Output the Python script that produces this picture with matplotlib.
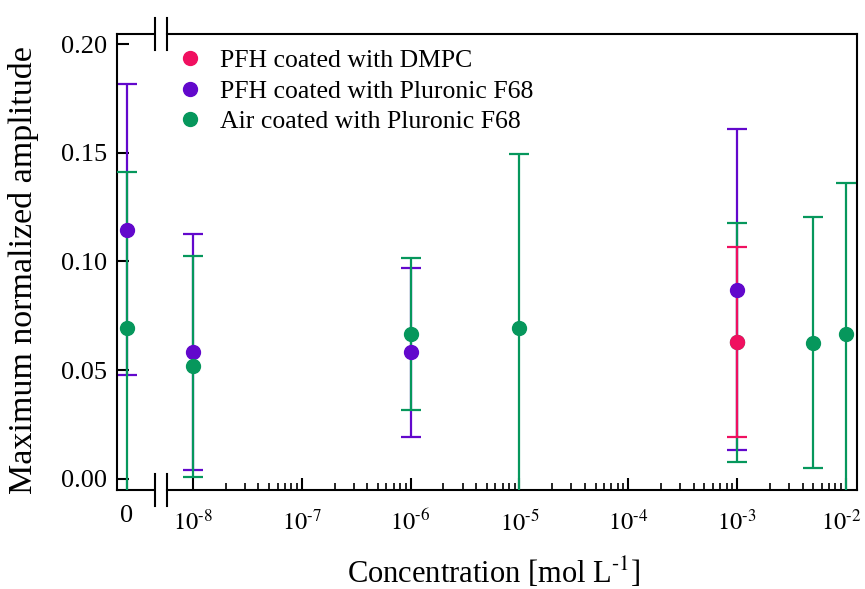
import matplotlib
matplotlib.use('Agg')
import matplotlib.pyplot as plt
import matplotlib.transforms as mtransforms
import numpy as np
from matplotlib.lines import Line2D
from matplotlib.ticker import FixedLocator

plt.rcParams['font.family'] = ['Liberation Serif', 'DejaVu Serif']
plt.rcParams['mathtext.fontset'] = 'stix'

# concentration 0 goes on its own short linear axis, the rest on a log axis
labels = ['PFH coated with DMPC', 'PFH coated with Pluronic F68', 'Air coated with Pluronic F68']
colors = ['#f01060', '#6208cc', '#06975c']

dmpc_x = [1e-3]
dmpc_y = [0.0630]
dmpc_lo = [0.0193]
dmpc_hi = [0.1067]

f68_x = [0, 1e-8, 1e-6, 1e-3]
f68_y = [0.1145, 0.0584, 0.0584, 0.0869]
f68_lo = [0.0478, 0.0041, 0.0194, 0.0133]
f68_hi = [0.1816, 0.1126, 0.0970, 0.1609]

air_x = [0, 1e-8, 1e-6, 1e-5, 1e-3, 5e-3, 1e-2]
air_y = [0.0696, 0.0520, 0.0667, 0.0694, 0.0630, 0.0625, 0.0667]
air_lo = [-0.01, 0.0011, 0.0317, -0.01, 0.0080, 0.0051, -0.01]
air_hi = [0.1413, 0.1025, 0.1016, 0.1494, 0.1178, 0.1205, 0.1362]

yticks = [0, 0.05, 0.10, 0.15, 0.20]
decades = [-8, -7, -6, -5, -4, -3, -2]

W, H = 865, 589
fig = plt.figure(figsize=(W / 100, H / 100), dpi=100)
bot = 1 - 490 / H
top = 1 - 34 / H
axl = fig.add_axes([117 / W, bot, (154 - 117) / W, top - bot])
axr = fig.add_axes([167 / W, bot, (857 - 167) / W, top - bot])


def draw(x, y, lo, hi, c, z):
    x = np.asarray(x, float)
    y = np.asarray(y, float)
    lo = np.asarray(lo, float)
    hi = np.asarray(hi, float)
    for ax, m in ((axl, x == 0), (axr, x > 0)):
        if not m.any():
            continue
        ax.errorbar(x[m], y[m], yerr=[y[m] - lo[m], hi[m] - y[m]], fmt='none',
                    ecolor=c, elinewidth=1.6, capsize=7, capthick=1.6, zorder=z)
        ax.plot(x[m], y[m], 'o', color=c, ms=10, zorder=z + 5)


draw(f68_x, f68_y, f68_lo, f68_hi, colors[1], 2)
draw(air_x, air_y, air_lo, air_hi, colors[2], 3)
draw(dmpc_x, dmpc_y, dmpc_lo, dmpc_hi, colors[0], 4)

ylim = (-0.00506, 0.2046)
for ax in (axl, axr):
    ax.set_ylim(*ylim)
    for s in ax.spines.values():
        s.set_linewidth(1.5)

axl.set_xlim(-1, 2.7)
axl.spines['right'].set_visible(False)
axl.set_xticks([0])
axl.set_xticklabels(['0'])
axl.set_yticks(yticks)
axl.set_yticklabels(['%.2f' % v for v in yticks])
axl.tick_params(direction='in', length=8.5, width=1.5, labelsize=19, pad=7)
axl.tick_params(axis='x', pad=11)

axr.set_xscale('log')
axr.set_xlim(10 ** -8.2385, 10 ** -1.899)
axr.spines['left'].set_visible(False)
axr.set_xticks([10.0 ** d for d in decades])
axr.set_xticklabels([r'$10^{\text{-}%d}$' % -d for d in decades])
axr.xaxis.set_minor_locator(FixedLocator([k * 10.0 ** d for d in decades[:-1] for k in range(2, 10)]))
axr.tick_params(axis='y', left=False, labelleft=False)
axr.tick_params(axis='x', which='major', direction='in', length=8.5, width=1.5, labelsize=17.5, pad=14)
axr.tick_params(axis='x', which='minor', direction='in', length=5, width=1.2)

# nudge the last decade label so it stays inside the figure
last = axr.get_xticklabels()[-1]
last.set_transform(last.get_transform() + mtransforms.ScaledTranslation(-5 / 100, 0, fig.dpi_scale_trans))

# break marks on the top and bottom spines
for xp in (154.5, 167):
    for yp in (34, 490):
        fig.add_artist(Line2D([xp / W, xp / W], [1 - (yp - 16) / H, 1 - (yp + 16) / H],
                              color='black', lw=1.5, transform=fig.transFigure))

fig.text(24 / W, 1 - 270 / H, 'Maximum normalized amplitude', rotation=90,
         ha='center', va='center', fontsize=24.5)
fig.text(494 / W, 1 - 573 / H, r'Concentration [mol L$^{\text{-}1}$]',
         ha='center', va='center', fontsize=22)

handles = [Line2D([], [], ls='none', marker='o', ms=10, color=c) for c in colors]
axr.legend(handles, labels, loc='upper left', bbox_to_anchor=(178 / W, 1 - 49 / H),
           bbox_transform=fig.transFigure, frameon=False, fontsize=18.5,
           handlelength=0.9, handletextpad=0.75, labelspacing=0.3,
           borderpad=0, borderaxespad=0)

fig.savefig('out.png', dpi=100)
